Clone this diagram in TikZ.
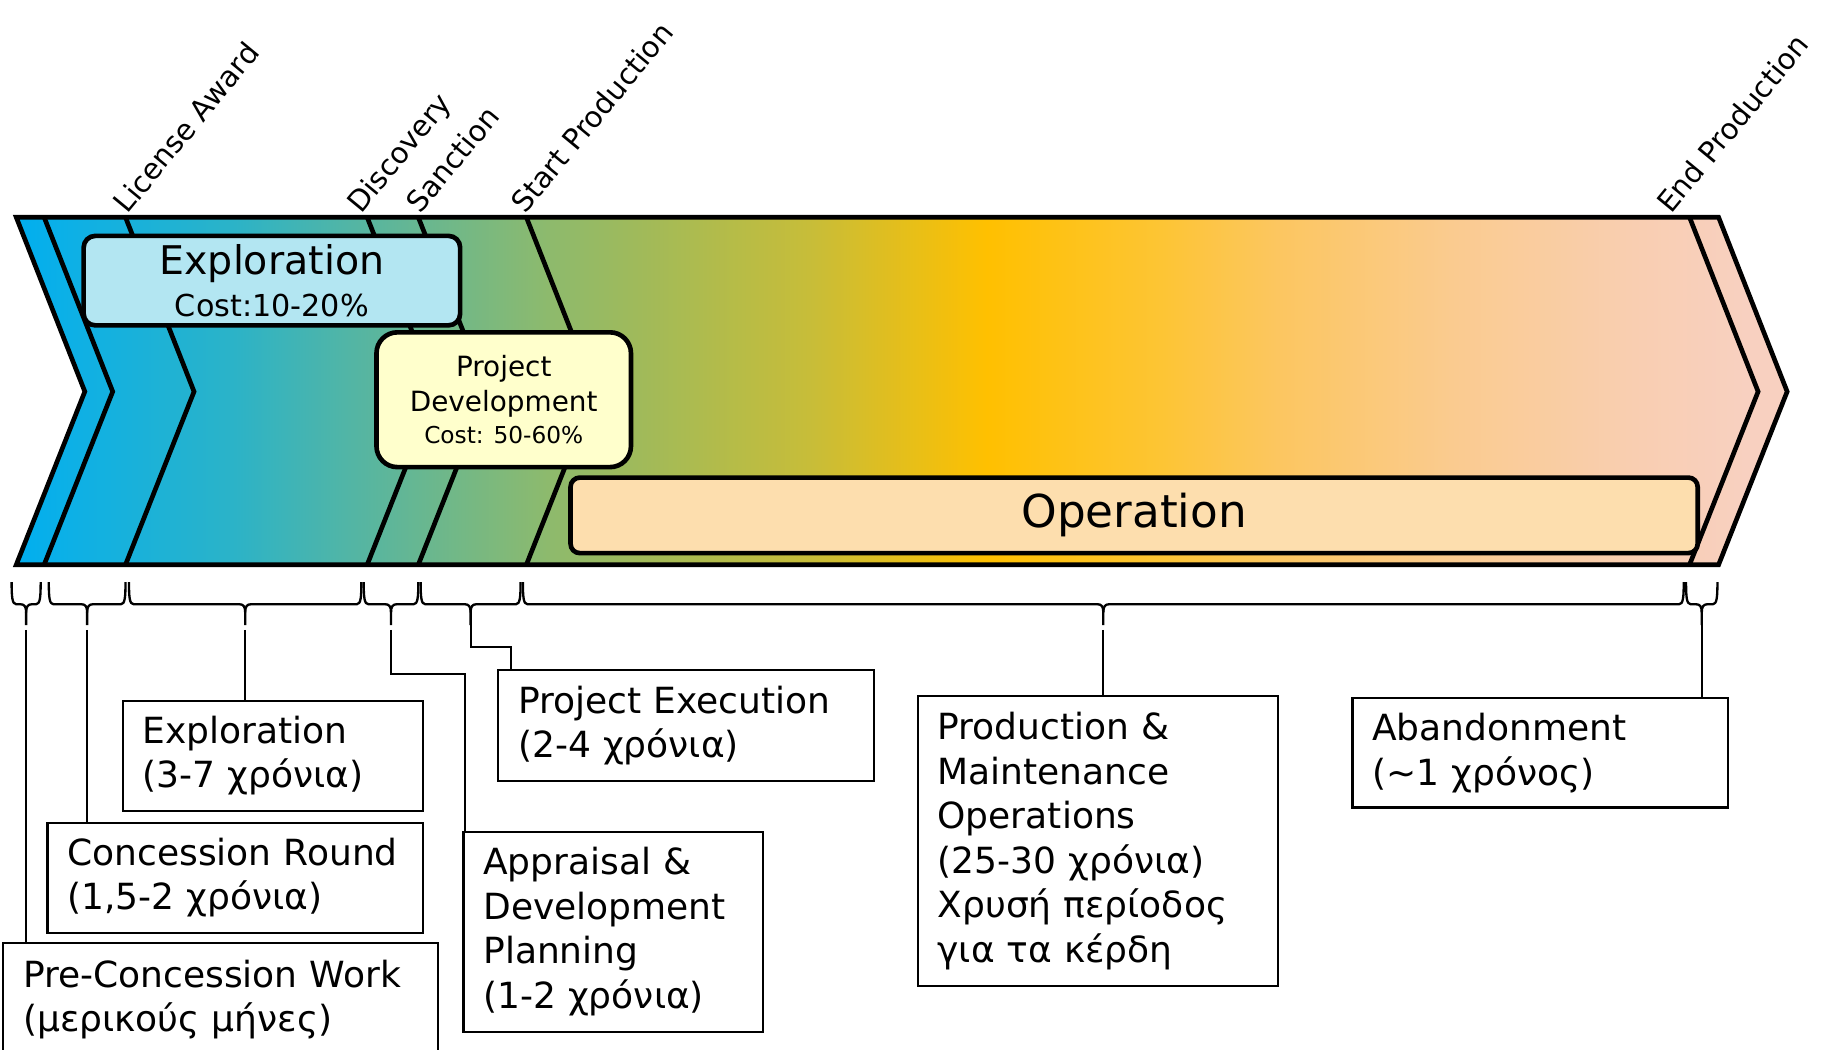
\documentclass[tikz,border=0pt]{standalone}
\usepackage{fontspec}
\setmainfont{DejaVu Sans}
\usetikzlibrary{calc}
\definecolor{c0}{HTML}{00AEEF}
\definecolor{c1}{HTML}{0DB0E6}
\definecolor{c2}{HTML}{2BB3C8}
\definecolor{c3}{HTML}{52B5A5}
\definecolor{c4}{HTML}{8DBA6D}
\definecolor{c5}{HTML}{A0BA5A}
\definecolor{c6}{HTML}{C8BD38}
\definecolor{c7}{HTML}{FFC000}
\definecolor{c8}{HTML}{FDC535}
\definecolor{c9}{HTML}{FCC660}
\definecolor{c10}{HTML}{FACB8F}
\definecolor{c11}{HTML}{F9CEB0}
\definecolor{c12}{HTML}{F8D0C0}
\definecolor{expfill}{HTML}{B3E6F2}
\definecolor{pdfill}{HTML}{FFFFCC}
\definecolor{opfill}{HTML}{FDDEAE}
\pgfdeclarehorizontalshading{bandshade}{100bp}{color(0bp)=(c0); color(25bp)=(c0); color(26.5bp)=(c1); color(31.1bp)=(c2); color(34.4bp)=(c3); color(40bp)=(c4); color(42.6bp)=(c5); color(47.5bp)=(c6); color(52.4bp)=(c7); color(57.4bp)=(c8); color(60.6bp)=(c9); color(65.5bp)=(c10); color(70.5bp)=(c11); color(73.8bp)=(c12); color(75bp)=(c12); color(100bp)=(c12)}
\tikzset{
  bandline/.style={line width=4pt, line join=miter},
  pbox/.style={draw, line width=4pt, rounded corners=10pt, inner sep=0pt, align=center},
  ibox/.style={draw, line width=1.8pt, anchor=north west, align=left, inner xsep=17pt, inner ysep=0pt, font=\fontsize{31}{38.3}\selectfont},
  conn/.style={line width=1.8pt},
  brc/.style={line width=2pt, line join=round},
  mile/.style={anchor=base west, rotate=50.5, inner sep=0pt, font=\fontsize{25}{30}\selectfont}
}
\begin{document}
\begin{tikzpicture}[x=1pt, y=-1pt]
\useasboundingbox (0,0) rectangle (1568,903.6);
% band
\shade[shading=bandshade] (14,187) -- (1479,187) -- (1538,337) -- (1479,486) -- (14,486) -- (73,337) -- cycle;
\foreach \t in {38,108,316,360,453,1454}
  \draw[bandline] (\t,187) -- (\t+59,337) -- (\t,486);
\draw[bandline] (14,187) -- (1479,187) -- (1538,337) -- (1479,486) -- (14,486) -- (73,337) -- cycle;
% milestones
\node[mile] (la) at (110,185) {License Award};
\node[mile] (disc) at (311,185) {Discovery};
\node[mile] (sanc) at (362,185) {Sanction};
\node[mile] (sprod) at (452,185) {Start Production};
\node[mile] (eprod) at (1438,185) {End Production};
% phase boxes
\node[pbox, fill=expfill, minimum width=324pt, minimum height=77pt, font=\fontsize{34}{36.5}\selectfont] (expl) at (234,241.5)
  {Exploration\\{\fontsize{26}{30}\selectfont Cost:10-20\%}};
\node[pbox, fill=pdfill, rounded corners=18pt, minimum width=219pt, minimum height=116pt, font=\fontsize{24}{30}\selectfont] (pdev) at (433.5,344)
  {Project\\Development\\[-2.5pt]{\fontsize{20}{24}\selectfont Cost: 50-60\%}};
\node[pbox, fill=opfill, rounded corners=8pt, minimum width=970pt, minimum height=65pt, font=\fontsize{39}{44}\selectfont] (oper) at (976,443.5) {Operation};
% braces
\foreach \a/\b/\n in {10/35/b1, 42/108/b2, 111/311/b3, 313/360/b4, 362/448/b5, 450/1449/b6, 1451/1478/b7} {
  \pgfmathsetmacro\m{(\a+\b)/2}
  \draw[brc] (\a,501) .. controls (\a,514) and (\a+0.5,520) .. (\a+4,520) -- (\m-5,520)
    .. controls (\m-1.5,520) and (\m,522) .. (\m,527) -- (\m,538) coordinate (\n);
  \draw[brc] (\b,501) .. controls (\b,514) and (\b-0.5,520) .. (\b-4,520) -- (\m+5,520)
    .. controls (\m+1.5,520) and (\m,522) .. (\m,527);
}
% info boxes
\node[ibox, text width=224pt, minimum height=95pt] (iexp) at (105,602)
  {\mbox{Exploration}\\\mbox{(3-7 χρόνια)}};
\node[ibox, text width=289pt, minimum height=95pt] (icon) at (40,707)
  {\mbox{Concession Round}\\\mbox{(1,5-2 χρόνια)}};
\node[ibox, text width=340pt, minimum height=97pt] (ipre) at (2,811)
  {\mbox{Pre-Concession Work}\\\mbox{(μερικούς μήνες)}};
\node[ibox, text width=289pt, minimum height=95pt] (iexe) at (428,576)
  {\mbox{Project Execution}\\\mbox{(2-4 χρόνια)}};
\node[ibox, text width=224pt, minimum height=172pt] (iapp) at (398,715)
  {\mbox{Appraisal \&}\\\mbox{Development}\\\mbox{Planning}\\\mbox{(1-2 χρόνια)}};
\node[ibox, text width=276pt, minimum height=250pt] (iprod) at (789,598)
  {\mbox{Production \&}\\\mbox{Maintenance}\\\mbox{Operations}\\\mbox{(25-30 χρόνια)}\\\mbox{Χρυσή περίοδος}\\\mbox{για τα κέρδη}};
\node[ibox, text width=289pt, minimum height=94pt] (iaba) at (1163,600)
  {\mbox{Abandonment}\\\mbox{(\textasciitilde1 χρόνος)}};
% connectors
\draw[conn] ([yshift=-4pt]b1) -- (ipre.north -| b1);
\draw[conn] ([yshift=-4pt]b2) -- (icon.north -| b2);
\draw[conn] ([yshift=-4pt]b3) -- (iexp.north -| b3);
\draw[conn] ([yshift=-4pt]b4) -- (b4 |- 0,580) -| ([xshift=2pt]iapp.north west);
\draw[conn] (b5) -- (b5 |- 0,557) -| ([xshift=12pt]iexe.north west);
\draw[conn] ([yshift=-4pt]b6) -- (iprod.north -| b6);
\draw[conn] (b7) -- (iaba.north -| b7);
\end{tikzpicture}
\end{document}
